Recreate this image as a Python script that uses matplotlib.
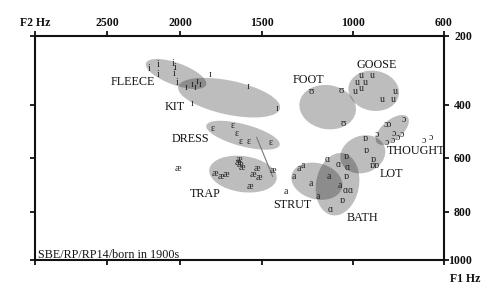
import numpy as np
import matplotlib
matplotlib.use("Agg")
import matplotlib.pyplot as plt
from matplotlib.patches import Ellipse
from matplotlib.transforms import ScaledTranslation
from matplotlib.ticker import FixedLocator, FixedFormatter

# ---------------- data (Hz) ----------------
fleece_f2 = [2212, 2151, 2151, 2048, 2033, 2043, 2021]
fleece_f1 = [294, 282, 312, 280, 293, 310, 336]
kit_f2 = [1965, 1930, 1910, 1896, 1879, 1818, 1928, 1582, 1418]
kit_f1 = [350, 343, 350, 333, 343, 311, 397, 346, 414]
dress_f2 = [1801, 1678, 1654, 1629, 1582, 1451]
dress_f1 = [492, 481, 509, 538, 538, 544]
trap_f2 = [2014, 1787, 1752, 1719, 1638, 1633, 1649, 1624, 1527, 1555, 1515, 1572, 1440]
trap_f1 = [640, 658, 668, 661, 609, 626, 620, 637, 640, 664, 673, 708, 646]
strut_f2 = [1369, 1327, 1295, 1273, 1231, 1133, 1075, 1191]
strut_f1 = [726, 668, 640, 631, 695, 668, 701, 744]
bath_f2 = [1142, 1081, 1034, 1045, 1018, 1127]
bath_f1 = [607, 625, 635, 722, 722, 791]
lot_f2 = [1036, 1036, 1063, 948, 941, 912, 918, 900]
lot_f1 = [596, 668, 759, 528, 572, 609, 629, 629]
thought_f2 = [856, 841, 776, 897, 821, 787, 851, 826, 802, 688, 659]
thought_f1 = [476, 476, 457, 512, 509, 512, 543, 534, 523, 536, 526]
foot_f2 = [1231, 1067, 1055]
foot_f1 = [361, 359, 472]
goose_f2 = [963, 914, 981, 947, 966, 993, 815, 873, 825]
goose_f1 = [314, 314, 337, 337, 352, 362, 361, 386, 386]

lexical_sets = ["FLEECE", "KIT", "DRESS", "TRAP", "STRUT", "BATH", "LOT", "THOUGHT", "FOOT", "GOOSE"]
symbols = ["i", "ɪ", "ɛ", "æ", "a", "ɑ", "ɒ", "ɔ", "ʊ", "u"]
# ellipse centres (F2, F1 in Hz)
centre_f2 = [2029, 1700, 1615, 1615, 1199, 1086, 958, 828, 1140, 910]
centre_f1 = [311, 380, 516, 661, 687, 698, 588, 496, 410, 360]
# label anchor (F2, F1 in Hz)
label_f2 = [2322, 2040, 1940, 1846, 1330, 959, 831, 723, 1243, 899]
label_f1 = [334, 411, 530, 734, 776, 827, 662, 575, 329, 285]
# DRESS -> TRAP trajectory line
traj_f2 = [1531, 1440]
traj_f1 = [524, 670]

x_ticks = [3000, 2500, 2000, 1500, 1000, 600]
x_labels = ["F2 Hz", "2500", "2000", "1500", "1000", "600"]
y_ticks = [200, 400, 600, 800, 1000]
y_labels = ["200", "400", "600", "800", "1000"]

# ---------------- styles / layout ----------------
ell_size = [(64, 22, -20), (104, 34, -12), (76, 22, -15), (68, 36, -8), (52, 36, -15),
            (43, 63, -10), (46, 37, 20), (40, 20, 40), (57, 44, -10), (51, 40, -10)]
# non-linear axis (tick spacing as in the original), pixel position of each tick
x_pos = [34.7, 107.3, 180.3, 261.7, 353.3, 444]
y_pos = [36, 104.5, 157.5, 212, 260]

SERIF = ["Liberation Serif", "DejaVu Serif"]


def piecewise(xp, fp):
    xp = np.asarray(xp, float)
    fp = np.asarray(fp, float)
    o = np.argsort(xp)
    xp, fp = xp[o], fp[o]
    s0 = (fp[1] - fp[0]) / (xp[1] - xp[0])
    s1 = (fp[-1] - fp[-2]) / (xp[-1] - xp[-2])

    def f(v):
        v = np.asarray(v, float)
        out = np.interp(v, xp, fp)
        out = np.where(v < xp[0], fp[0] + (v - xp[0]) * s0, out)
        out = np.where(v > xp[-1], fp[-1] + (v - xp[-1]) * s1, out)
        return out
    return f


fig = plt.figure(figsize=(5, 3.01), dpi=100)
W, H = 500, 301
ax = fig.add_axes([34.7 / W, 1 - 260 / H, (444 - 34.7) / W, (260 - 36) / H])

# forward maps Hz -> (negative) pixel position so it is increasing in Hz
xf = piecewise(x_ticks, [-p for p in x_pos])
xi = piecewise([-p for p in x_pos], x_ticks)
ax.set_xscale("function", functions=(xf, xi))
ax.set_yscale("function", functions=(piecewise(y_ticks, y_pos), piecewise(y_pos, y_ticks)))
ax.set_xlim(3000, 600)
ax.set_ylim(1000, 200)
ax.set_autoscale_on(False)

ax.xaxis.set_major_locator(FixedLocator(x_ticks))
ax.xaxis.set_major_formatter(FixedFormatter(x_labels))
ax.xaxis.set_minor_locator(FixedLocator([]))
ax.yaxis.set_major_locator(FixedLocator(y_ticks))
ax.yaxis.set_major_formatter(FixedFormatter(y_labels))
ax.yaxis.set_minor_locator(FixedLocator([]))

for s in ax.spines.values():
    s.set_linewidth(1.5)
    s.set_color("#111111")

ax.tick_params(axis="both", which="major", direction="out", length=3.5, width=1.3,
               top=True, bottom=True, left=True, right=True,
               labeltop=True, labelbottom=False, labelleft=False, labelright=True,
               colors="#111111")
ax.tick_params(axis="x", pad=1.8)
ax.tick_params(axis="y", pad=16.6)
for lbl in ax.get_xticklabels():
    lbl.set_fontfamily(SERIF)
    lbl.set_fontweight("bold")
    lbl.set_fontsize(8.5)
for lbl in ax.get_yticklabels():
    lbl.set_fontfamily(SERIF)
    lbl.set_fontweight("bold")
    lbl.set_fontsize(8.5)
    lbl.set_horizontalalignment("right")

# ellipses (size in pixels, centred on data point)
for cx, cy, (w, h, a) in zip(centre_f2, centre_f1, ell_size):
    tr = fig.dpi_scale_trans + ScaledTranslation(cx, cy, ax.transData)
    e = Ellipse((0, 0), w / 100, h / 100, angle=a, transform=tr,
                facecolor="black", alpha=0.26, edgecolor="none", zorder=1)
    ax.add_artist(e)

ax.plot(traj_f2, traj_f1, color="#777777", lw=0.8, zorder=2)

series = [(fleece_f2, fleece_f1), (kit_f2, kit_f1), (dress_f2, dress_f1), (trap_f2, trap_f1),
          (strut_f2, strut_f1), (bath_f2, bath_f1), (lot_f2, lot_f1), (thought_f2, thought_f1),
          (foot_f2, foot_f1), (goose_f2, goose_f1)]
for sym, (xs, ys) in zip(symbols, series):
    for x, y in zip(xs, ys):
        ax.text(x, y, sym, ha="center", va="center", fontsize=7, family=SERIF,
                color="#222222", zorder=3)

for name, x, y in zip(lexical_sets, label_f2, label_f1):
    ax.text(x, y, name, ha="center", va="center", fontsize=8.7, family=SERIF,
            color="#111111", zorder=4)

ax.text(3.3 / 409.3, 2.5 / 224, "SBE/RP/RP14/born in 1900s", transform=ax.transAxes,
        ha="left", va="baseline", fontsize=8.7, family=SERIF, color="#111111")

fig.text(465 / W, 1 - 278.5 / H, "F1 Hz", ha="center", va="center", fontsize=8.5,
         family=SERIF, fontweight="bold", color="#111111")

fig.savefig("out.png", dpi=100)
